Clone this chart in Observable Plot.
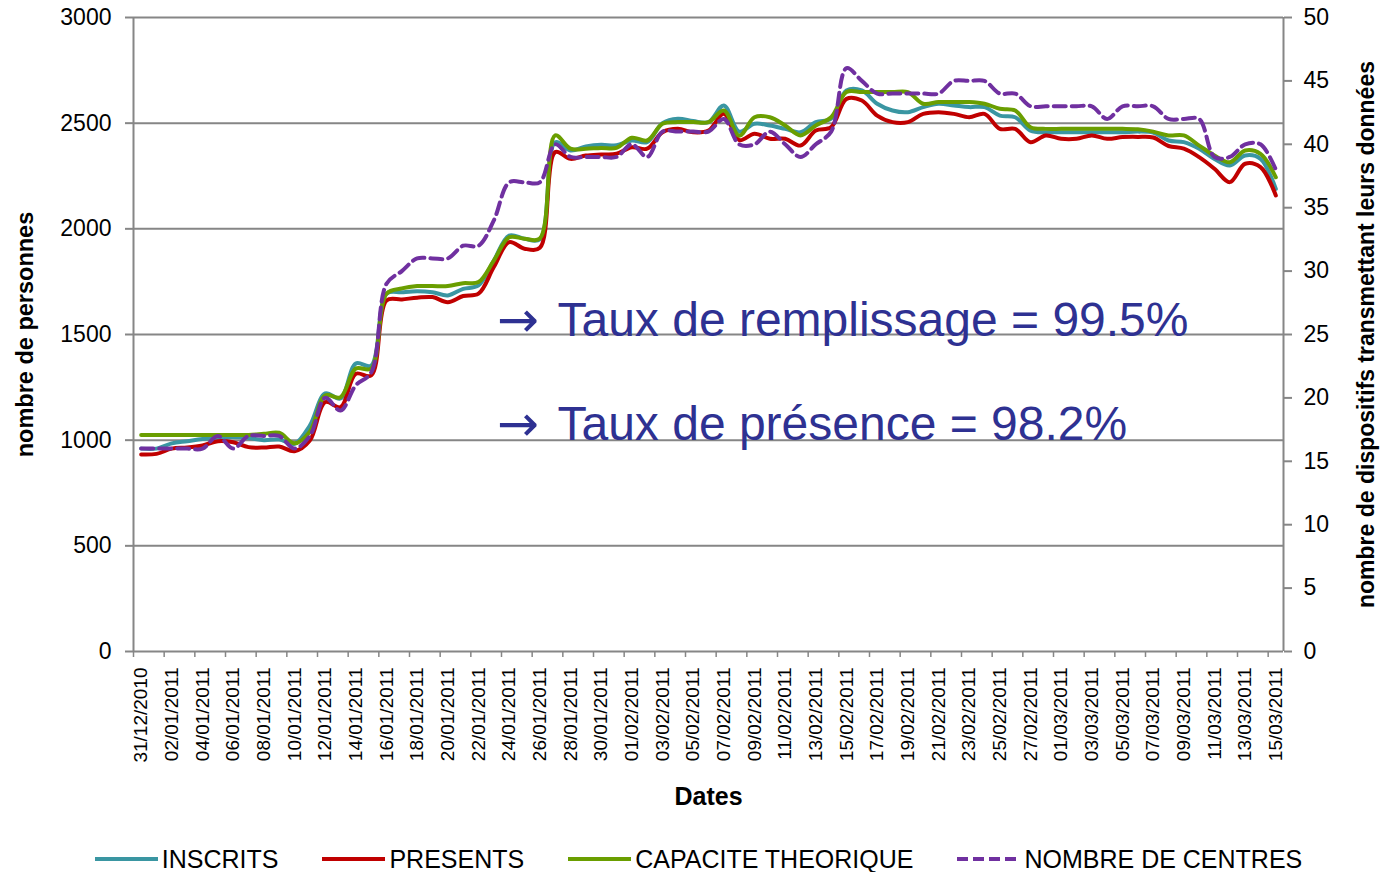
<!DOCTYPE html>
<html><head><meta charset="utf-8">
<script src="https://cdn.jsdelivr.net/npm/d3@7"></script>
<script src="https://cdn.jsdelivr.net/npm/@observablehq/plot@0.6"></script>
<style>
body{margin:0;background:#fff;font-family:"Liberation Sans",Arial,sans-serif;}
#chart{position:relative;width:1382px;height:872px;}
.legend{position:absolute;top:847px;left:0;width:1382px;box-sizing:border-box;padding-left:15px;display:flex;justify-content:center;gap:44px;font-size:25px;line-height:24px;height:24px;color:#000;}
.item{display:flex;align-items:center;white-space:nowrap;}
</style></head>
<body><div id="chart"></div>
<script>
const dates = ["31/12/2010",
"01/01/2011","02/01/2011","03/01/2011","04/01/2011","05/01/2011","06/01/2011","07/01/2011","08/01/2011","09/01/2011","10/01/2011",
"11/01/2011","12/01/2011","13/01/2011","14/01/2011","15/01/2011","16/01/2011","17/01/2011","18/01/2011","19/01/2011","20/01/2011",
"21/01/2011","22/01/2011","23/01/2011","24/01/2011","25/01/2011","26/01/2011","27/01/2011","28/01/2011","29/01/2011","30/01/2011","31/01/2011",
"01/02/2011","02/02/2011","03/02/2011","04/02/2011","05/02/2011","06/02/2011","07/02/2011","08/02/2011","09/02/2011","10/02/2011",
"11/02/2011","12/02/2011","13/02/2011","14/02/2011","15/02/2011","16/02/2011","17/02/2011","18/02/2011","19/02/2011","20/02/2011",
"21/02/2011","22/02/2011","23/02/2011","24/02/2011","25/02/2011","26/02/2011","27/02/2011","28/02/2011",
"01/03/2011","02/03/2011","03/03/2011","04/03/2011","05/03/2011","06/03/2011","07/03/2011","08/03/2011","09/03/2011","10/03/2011",
"11/03/2011","12/03/2011","13/03/2011","14/03/2011","15/03/2011"];

const inscrits = [960,960,985,995,1005,1012,1015,1010,1000,1003,
983,1069,1221,1197,1363,1353,1693,1700,1705,1700,
1685,1716,1732,1850,1968,1953,1950,2410,2371,2390,
2398,2395,2418,2410,2500,2521,2510,2505,2584,2460,
2497,2489,2473,2457,2505,2521,2655,2655,2592,2560,
2552,2576,2592,2584,2576,2576,2536,2528,2465,2457,
2457,2457,2457,2457,2457,2460,2455,2418,2410,2379,
2331,2300,2347,2331,2189];

const presents = [932,935,960,965,975,995,990,967,965,970,
948,998,1180,1156,1314,1306,1661,1666,1674,1677,
1653,1682,1693,1819,1937,1906,1910,2363,2331,2347,
2352,2355,2386,2379,2457,2473,2457,2465,2544,2420,
2450,2426,2426,2394,2465,2481,2615,2607,2536,2505,
2505,2544,2552,2544,2528,2544,2473,2473,2410,2442,
2426,2426,2442,2426,2434,2435,2432,2392,2379,2339,
2284,2221,2308,2292,2158];

const capacite = [1025,1025,1025,1025,1025,1025,1025,1025,1030,1035,
985,1040,1211,1203,1339,1339,1693,1718,1729,1729,
1729,1743,1748,1850,1960,1953,1954,2442,2379,2379,
2383,2383,2431,2418,2497,2505,2505,2505,2560,2440,
2528,2528,2489,2442,2489,2528,2647,2647,2647,2647,
2647,2592,2600,2600,2600,2592,2568,2560,2481,2473,
2473,2473,2473,2473,2473,2471,2460,2442,2442,2394,
2347,2315,2371,2355,2244];

const centres = [16,16,16,16,16,17,16,17,17,17,
16,17,20,19,21,22,29,30,31,31,
31,32,32,34,37,37,37,40,39,39,
39,39,40,39,41,41,41,41,42,40,
40,41,40,39,40,41,46,45,44,44,
44,44,44,45,45,45,44,44,43,43,
43,43,43,42,43,43,43,42,42,42,
39,39,40,40,38];

const seriesNames = ["INSCRITS","PRESENTS","CAPACITE THEORIQUE","NOMBRE DE CENTRES"];
const seriesColors = ["#3A96A2","#C00000","#6A9E00","#7030A0"];
const leftTicks = [0,500,1000,1500,2000,2500,3000];
const rightTicks = [0,5,10,15,20,25,30,35,40,45,50];
const leftMax = 3000, rightMax = 50;
const ratio = leftMax / rightMax;
const notes = ["Taux de remplissage = 99.5%", "Taux de pr\u00e9sence = 98.2%"];
const noteY = [1566, 1074];
const arrowDay = 23.2;
const noteDay = 27.15;

const gray = "#868686";
const font = "Liberation Sans, Arial, sans-serif";
const toRows = arr => arr.map((v, i) => ({day: i, value: v}));

const chart = Plot.plot({
  width: 1382, height: 830,
  marginLeft: 133, marginRight: 99, marginTop: 17, marginBottom: 179,
  style: {fontFamily: font, fontSize: "22px", color: "black", background: "white", overflow: "visible"},
  x: {type: "linear", domain: [-0.5, dates.length - 0.5]},
  y: {domain: [0, leftMax]},
  marks: [
    Plot.gridY(leftTicks.filter(t => t > 0), {stroke: gray, strokeWidth: 2, strokeOpacity: 1}),
    Plot.ruleY([0], {stroke: gray, strokeWidth: 2}),
    Plot.ruleX([-0.5, dates.length - 0.5], {stroke: gray, strokeWidth: 2}),
    Plot.axisY(leftTicks, {anchor: "left", tickSize: 8, tickPadding: 14, stroke: gray, strokeWidth: 2, fill: "black", fontSize: 23, tickFormat: d => String(d), label: null}),
    Plot.axisY(rightTicks.map(t => t * ratio), {anchor: "right", tickSize: 8, tickPadding: 12, stroke: gray, strokeWidth: 2, fill: "black", fontSize: 23, tickFormat: d => String(d / ratio), label: null}),
    Plot.axisX(d3.range(-0.5, dates.length - 1, 2), {tickSize: 6, stroke: gray, strokeWidth: 1.5, tickFormat: () => "", label: null}),
    Plot.axisX(d3.range(0, dates.length, 2), {tickSize: 0, tickPadding: 16, tickRotate: -90, fill: "black", fontSize: 19, tickFormat: i => dates[i], label: null}),
    Plot.line(toRows(inscrits), {x: "day", y: "value", stroke: seriesColors[0], strokeWidth: 4, curve: "catmull-rom"}),
    Plot.line(toRows(presents), {x: "day", y: "value", stroke: seriesColors[1], strokeWidth: 4, curve: "catmull-rom"}),
    Plot.line(toRows(capacite), {x: "day", y: "value", stroke: seriesColors[2], strokeWidth: 4, curve: "catmull-rom"}),
    Plot.line(toRows(centres), {x: "day", y: d => d.value * ratio, stroke: seriesColors[3], strokeWidth: 4, strokeDasharray: "12,6", curve: "catmull-rom"}),
    Plot.text(notes, {x: () => arrowDay, y: (d, i) => noteY[i], text: () => "\u2192", textAnchor: "start", fontSize: 50, fontFamily: "DejaVu Sans", fill: "#2E3192"}),
    Plot.text(notes, {x: () => noteDay, y: (d, i) => noteY[i], textAnchor: "start", fontSize: 48, fill: "#2E3192"}),
    Plot.text(["nombre de personnes"], {frameAnchor: "left", textAnchor: "middle", rotate: -90, dx: -108, fontSize: 23.5, fontWeight: "bold", fill: "black"}),
    Plot.text(["nombre de dispositifs transmettant leurs donn\u00e9es"], {frameAnchor: "right", textAnchor: "middle", rotate: -90, dx: 83, fontSize: 23, fontWeight: "bold", fill: "black"}),
    Plot.text(["Dates"], {frameAnchor: "bottom", dy: 153, fontSize: 25, fontWeight: "bold", fill: "black"})
  ]
});
const host = document.getElementById("chart");
host.appendChild(chart);

const legend = document.createElement("div");
legend.className = "legend";
seriesNames.forEach((name, i) => {
  const item = document.createElement("div");
  item.className = "item";
  const dash = i === 3 ? 'stroke-dasharray="11,5"' : "";
  item.innerHTML = `<svg width="63" height="8"><line x1="0" y1="4" x2="63" y2="4" stroke="${seriesColors[i]}" stroke-width="4" ${dash}/></svg><span style="margin-left:4px">${name}</span>`;
  legend.appendChild(item);
});
host.appendChild(legend);
</script>
</body></html>
